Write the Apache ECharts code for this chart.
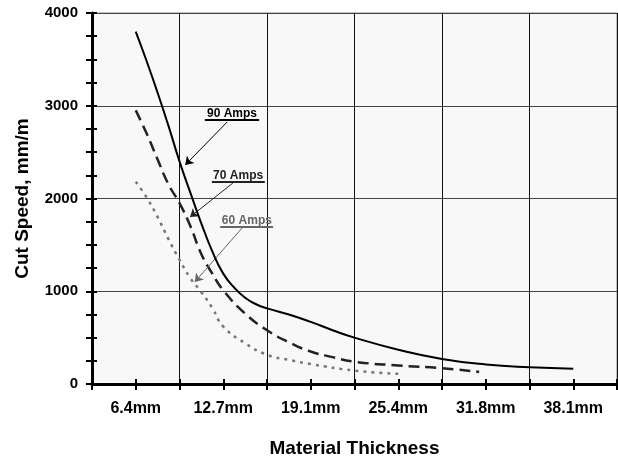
<!DOCTYPE html>
<html>
<head>
<meta charset="utf-8">
<script src="https://cdn.jsdelivr.net/npm/echarts@6/dist/echarts.min.js"></script>
<style>
  html, body { margin: 0; padding: 0; background: #fff; }
  #container { width: 618px; height: 456px; }
</style>
</head>
<body>
<div id="container"></div>
<script type="text/javascript">
    // x positions are in half-steps between thickness labels (label i sits at 2*i+1)
    var tickLabels = ['6.4mm', '12.7mm', '19.1mm', '25.4mm', '31.8mm', '38.1mm'];

    var pos90 = [1, 1.25, 1.5, 1.75, 2, 2.25, 2.5, 2.75, 3, 3.25, 3.5, 3.75, 4, 4.5, 5, 5.5, 6, 7, 8, 9, 10, 11];
    var speed90 = [3800, 3480, 3140, 2780, 2400, 2060, 1730, 1430, 1190, 1040, 930, 860, 815, 750, 670, 580, 500, 370, 270, 210, 180, 165];

    var pos70 = [1, 1.25, 1.5, 1.75, 2, 2.25, 2.5, 2.75, 3, 3.5, 4, 4.5, 5, 5.5, 6, 7, 8, 8.85];
    var speed70 = [2950, 2700, 2420, 2150, 1950, 1700, 1400, 1190, 1010, 760, 580, 450, 350, 290, 240, 200, 170, 130];

    var pos60 = [1, 1.25, 1.5, 1.75, 2, 2.25, 2.5, 2.75, 3, 3.5, 4, 4.5, 5, 6, 7];
    var speed60 = [2180, 2010, 1800, 1560, 1340, 1140, 990, 820, 620, 440, 315, 260, 215, 145, 110];

    function pairs(xs, ys) {
        var out = [];
        for (var i = 0; i < xs.length; i++) out.push([xs[i], ys[i]]);
        return out;
    }

    // annotation: label text spot, underline ends, arrow start -> tip
    function note(text, color, at, under, from, to) {
        return {
            markPoint: {
                silent: true,
                symbol: 'rect',
                symbolSize: 0,
                data: [{ coord: at }],
                label: {
                    show: true, position: 'inside', formatter: text,
                    fontFamily: 'Liberation Sans, Arial, sans-serif',
                    fontWeight: 'bold', fontSize: 12, color: color
                }
            },
            markLine: {
                silent: true,
                animation: false,
                symbol: ['none', 'none'],
                label: { show: false },
                data: [
                    [{ coord: under[0], lineStyle: { color: color, width: 2, type: 'solid' } }, { coord: under[1] }],
                    [{ coord: from, symbol: 'none', lineStyle: { color: color, width: 1, type: 'solid' } },
                     { coord: to, symbol: 'arrow', symbolSize: 8 }]
                ]
            }
        };
    }

    var n90 = note('90 Amps', '#000', [3.2, 2911], [[2.58, 2846], [3.82, 2846]], [3.09, 2825], [2.13, 2361]);
    var n70 = note('70 Amps', '#222', [3.34, 2246], [[2.74, 2178], [3.95, 2178]], [3.22, 2167], [2.24, 1800]);
    var n60 = note('60 Amps', '#666', [3.54, 1757], [[2.93, 1693], [4.14, 1693]], [3.43, 1682], [2.35, 1100]);

    var dom = document.getElementById("container");
    var myChart = echarts.init(dom);
    var font = 'Liberation Sans, Arial, sans-serif';

    var option = {
        animation: false,
        grid: {
            left: 92, top: 13, right: 1, bottom: 72,
            outerBoundsMode: 'none',
            show: true, backgroundColor: '#f8f8f8', borderColor: '#888', borderWidth: 1
        },
        xAxis: [
            {
                type: 'value', position: 'bottom', min: 0, max: 12, interval: 1,
                name: 'Material Thickness', nameLocation: 'middle', nameGap: 55,
                nameTextStyle: { fontFamily: font, fontWeight: 'bold', fontSize: 19, color: '#000' },
                axisLine: { show: true, onZero: false, lineStyle: { color: '#000', width: 3 } },
                axisTick: { show: true, inside: false, length: 6, lineStyle: { color: '#000', width: 2 } },
                axisLabel: {
                    margin: 17, fontFamily: font, fontWeight: 'bold', fontSize: 16, color: '#000',
                    formatter: function (v) {
                        return (v % 2 === 1) ? tickLabels[(v - 1) / 2] : '';
                    }
                },
                splitLine: { show: false }
            },
            {
                type: 'value', position: 'bottom', min: 0, max: 12, interval: 1,
                axisLine: { show: false, onZero: false },
                axisTick: { show: true, inside: true, length: 5, lineStyle: { color: '#000', width: 2 } },
                axisLabel: { show: false },
                splitLine: { show: false }
            },
            {
                type: 'value', position: 'bottom', min: 0, max: 12, interval: 2,
                axisLine: { show: false, onZero: false },
                axisTick: { show: false },
                axisLabel: { show: false },
                splitLine: { show: true, lineStyle: { color: '#111', width: 1 } }
            }
        ],
        yAxis: [
            {
                type: 'value', position: 'left', min: 0, max: 4000, interval: 250,
                name: 'Cut Speed, mm/m', nameLocation: 'middle', nameGap: 60, nameRotate: 90,
                nameTextStyle: { fontFamily: font, fontWeight: 'bold', fontSize: 19, color: '#000' },
                axisLine: { show: true, onZero: false, lineStyle: { color: '#000', width: 3 } },
                axisTick: { show: true, inside: false, length: 6, lineStyle: { color: '#000', width: 2 } },
                axisLabel: {
                    margin: 14, fontFamily: font, fontWeight: 'bold', fontSize: 15, color: '#000',
                    formatter: function (v) { return v % 1000 === 0 ? String(v) : ''; }
                },
                splitLine: { show: false }
            },
            {
                type: 'value', position: 'left', min: 0, max: 4000, interval: 250,
                axisLine: { show: false, onZero: false },
                axisTick: { show: true, inside: true, length: 5, lineStyle: { color: '#000', width: 2 } },
                axisLabel: { show: false },
                splitLine: { show: false }
            },
            {
                type: 'value', position: 'left', min: 0, max: 4000, interval: 1000,
                axisLine: { show: false, onZero: false },
                axisTick: { show: false },
                axisLabel: { show: false },
                splitLine: { show: true, lineStyle: { color: '#444', width: 1 } }
            }
        ],
        series: [
            Object.assign({
                name: '90 Amps', type: 'line', smooth: true, symbol: 'none',
                data: pairs(pos90, speed90),
                lineStyle: { color: '#000', width: 2 },
                z: 5
            }, n90),
            Object.assign({
                name: '70 Amps', type: 'line', smooth: true, symbol: 'none',
                data: pairs(pos70, speed70),
                lineStyle: { color: '#222', width: 2.5, type: [11, 6] },
                z: 4
            }, n70),
            Object.assign({
                name: '60 Amps', type: 'line', smooth: true, symbol: 'none',
                data: pairs(pos60, speed60),
                lineStyle: { color: '#777', width: 2.5, type: [3, 5] },
                z: 3
            }, n60)
        ]
    };

    if (option && typeof option === 'object') {
        myChart.setOption(option);
    }
</script>
</body>
</html>
